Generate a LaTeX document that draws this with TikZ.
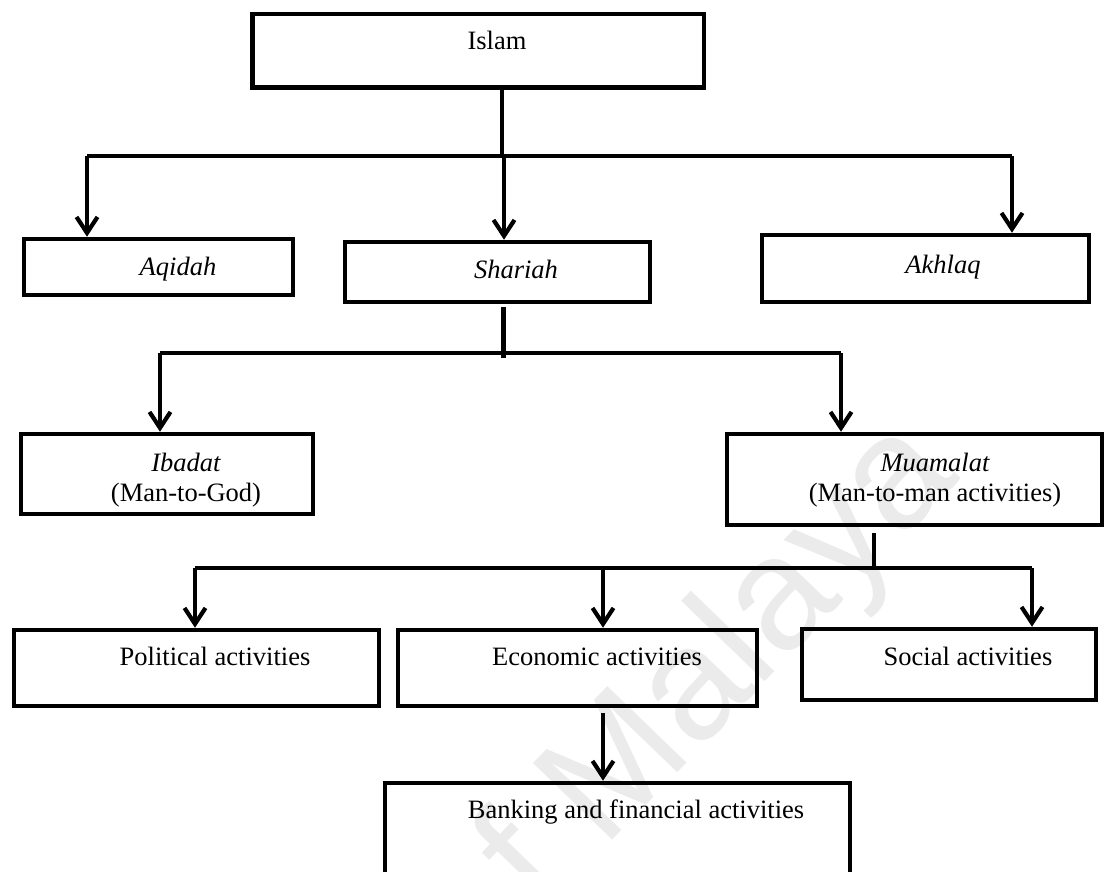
\documentclass[tikz,border=0pt]{standalone}
\usepackage{fontspec}
\setmainfont{Liberation Serif}[
  UprightFont=*,
  ItalicFont=* Italic,
  BoldFont=* Bold]
\newfontfamily\wmfont{Liberation Sans}
\usetikzlibrary{arrows.meta}
\begin{document}
\begin{tikzpicture}[x=1pt,y=-1pt,
  box/.style={draw, rectangle, line width=4.5pt, outer sep=2.25pt, inner sep=0pt},
  lbl/.style={font=\fontsize{26.5}{31}\selectfont, anchor=base, inner sep=0pt},
  ilbl/.style={lbl, font=\fontsize{26.5}{31}\selectfont\itshape},
  conn/.style={line width=4.2pt},
  arr/.style={line width=4.2pt, -{Straight Barb[length=16pt,width=21pt]}},
]
\clip (0,0) rectangle (1106,872);
\fill[white] (0,0) rectangle (1106,872);

% faint diagonal watermark
\node[text=black!8, font=\wmfont\fontsize{160}{165}\selectfont, rotate=46,
      anchor=base east, inner sep=0pt] (wm) at (962,478) {of Malaya};

% boxes
\node[box, minimum width=451.5pt, minimum height=73.5pt] (islam)    at (478,51) {};
\node[box, minimum width=269pt,   minimum height=56pt]   (aqidah)   at (158.5,267) {};
\node[box, minimum width=305pt,   minimum height=60pt]   (shariah)  at (497.5,272) {};
\node[box, minimum width=327pt,   minimum height=67pt]   (akhlaq)   at (925.5,268.5) {};
\node[box, minimum width=292pt,   minimum height=80pt]   (ibadat)   at (167,474) {};
\node[box, minimum width=375pt,   minimum height=91pt]   (muamalat) at (914.5,479.5) {};
\node[box, minimum width=365pt,   minimum height=76pt]   (political) at (196.5,668) {};
\node[box, minimum width=359pt,   minimum height=76pt]   (economic) at (577.5,668) {};
\node[box, minimum width=294pt,   minimum height=71pt]   (social)   at (949,664.5) {};
\node[box, minimum width=465pt,   minimum height=150pt]  (banking)  at (617.5,858) {};

% labels
\node[lbl]  (islam-t)     at (497,50)  {Islam};
\node[ilbl] (aqidah-t)    at (178,275) {Aqidah};
\node[ilbl] (shariah-t)   at (516,278) {Shariah};
\node[ilbl] (akhlaq-t)    at (943,273) {Akhlaq};
\node[ilbl] (ibadat-t)    at (186,471) {Ibadat};
\node[lbl]  (ibadat-s)    at (186,501) {(Man-to-God)};
\node[ilbl] (muamalat-t)  at (935,471) {Muamalat};
\node[lbl]  (muamalat-s)  at (935,501) {(Man-to-man activities)};
\node[lbl]  (political-t) at (215,665) {Political activities};
\node[lbl]  (economic-t)  at (597,665) {Economic activities};
\node[lbl]  (social-t)    at (968,665) {Social activities};
\node[lbl]  (banking-t)   at (636,818) {Banking and financial activities};

% first level: Islam
\coordinate (j1)  at (502,156);
\coordinate (l1w) at (87,156);
\coordinate (l1s) at (504,156);
\coordinate (l1e) at (1012,156);
\draw[conn] (islam.south -| j1) -- (j1);
\draw[conn] (l1w) -- (l1e);
\draw[arr] (l1w) -- (aqidah.north -| l1w);
\draw[arr] (l1s) -- (shariah.north -| l1s);
\draw[arr] (l1e) -- (akhlaq.north -| l1e);

% second level: Shariah
\coordinate (j2)  at (503.5,358);
\coordinate (l2w) at (160,353);
\coordinate (l2e) at (841,353);
\draw[conn] ([yshift=-3pt]shariah.south -| j2) -- (j2);
\draw[conn] (l2w) -- (l2e);
\draw[arr] (l2w) -- (ibadat.north -| l2w);
\draw[arr] (l2e) -- (muamalat.north -| l2e);

% third level: Muamalat
\coordinate (j3)  at (874,568);
\coordinate (l3w) at (195,568);
\coordinate (l3m) at (603,568);
\coordinate (l3e) at (1032,568);
\draw[conn] ([yshift=-6pt]muamalat.south -| j3) -- (j3);
\draw[conn] (l3w) -- (l3e);
\draw[arr] (l3w) -- (political.north -| l3w);
\draw[arr] (l3m) -- (economic.north -| l3m);
\draw[arr] (l3e) -- (social.north -| l3e);

% fourth level: Economic
\coordinate (j4) at (603,700);
\draw[arr] ([yshift=-5pt]economic.south -| j4) -- (banking.north -| j4);
\end{tikzpicture}
\end{document}
